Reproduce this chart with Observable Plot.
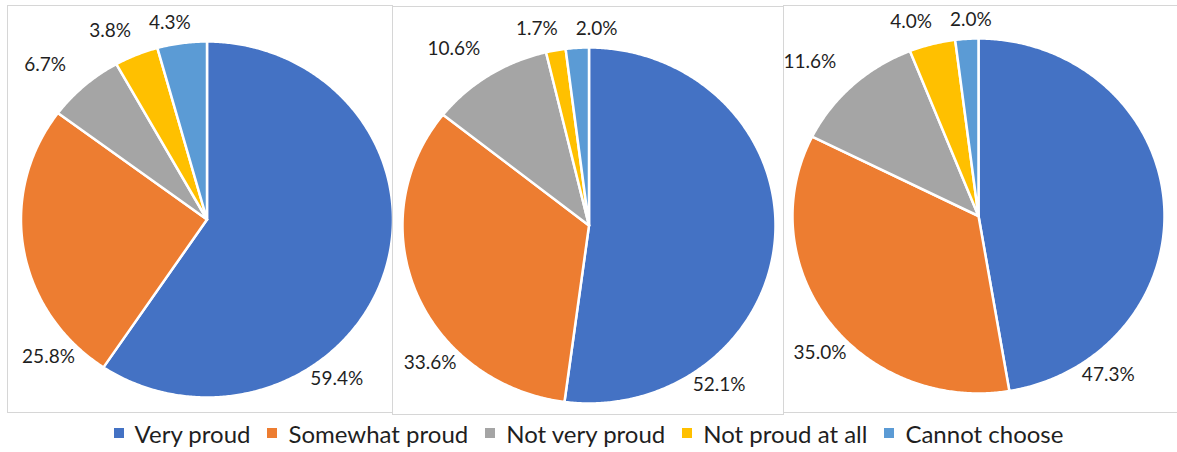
<!DOCTYPE html>
<html><head><meta charset="utf-8">
<script src="https://cdn.jsdelivr.net/npm/d3@7"></script>
<script src="https://cdn.jsdelivr.net/npm/@observablehq/plot@0.6"></script>
<style>
html,body{margin:0;padding:0;background:#fff;}
body{width:1177px;height:452px;overflow:hidden;position:relative;font-family:Lato,sans-serif;}
.panel{position:absolute;}
.panel svg{display:block;overflow:visible;}
.frame{position:absolute;border:1px solid #d6d6d6;box-sizing:border-box;pointer-events:none;}
#legend{position:absolute;left:0;top:418px;width:1177px;display:flex;justify-content:center;}
#legend > div{justify-content:center;margin:0 !important;min-height:30px !important;}
.lg-swatch{margin-right:17px !important;}
.lg-swatch:last-child{margin-right:0 !important;}
.lg-swatch > svg{margin-right:11px !important;}
</style></head><body>
<div id="legend"></div>
<script>
// ---- data ----
const categories = ["Very proud", "Somewhat proud", "Not very proud", "Not proud at all", "Cannot choose"];
const colors = ["#4472C4", "#ED7D31", "#A5A5A5", "#FFC000", "#5B9BD5"];
const survey1 = [59.4, 25.8, 6.7, 3.8, 4.3];
const survey2 = [52.1, 33.6, 10.6, 1.7, 2.0];
const survey3 = [47.3, 35.0, 11.6, 4.0, 2.0];

// ---- layout (page pixels) ----
const layout = [
  {values: survey1, left: 7,   top: 5, width: 386, height: 408, cx: 206.5, cy: 219,   rx: 186, ry: 178},
  {values: survey2, left: 392, top: 6, width: 392, height: 409, cx: 588.5, cy: 225,   rx: 186.5, ry: 178},
  {values: survey3, left: 783, top: 5, width: 400, height: 408, cx: 978,   cy: 215.5, rx: 186, ry: 177.5}
];
const labelFont = 19, labelFamily = "Lato", textColor = "#1f1f1f";

const ctx = document.createElement("canvas").getContext("2d");
ctx.font = `${labelFont}px ${labelFamily}`;

function wedgePoints(values) {
  const total = d3.sum(values);
  let acc = 0;
  const pts = [];
  values.forEach((v, i) => {
    const a0 = acc / total * 2 * Math.PI; acc += v;
    const a1 = acc / total * 2 * Math.PI;
    const n = Math.max(2, Math.ceil((a1 - a0) / (Math.PI / 360)));
    pts.push({cat: categories[i], x: 0, y: 0});
    for (let k = 0; k <= n; k++) {
      const a = a0 + (a1 - a0) * k / n;
      pts.push({cat: categories[i], x: Math.sin(a), y: Math.cos(a)});
    }
    pts.push({cat: categories[i], x: 0, y: 0});
  });
  return pts;
}

function labelPoints(values, p) {
  const total = d3.sum(values);
  let acc = 0;
  const labs = values.map((v, i) => {
    const a0 = acc / total * 360; acc += v;
    const a1 = acc / total * 360;
    let mid = (a0 + a1) / 2 - 4, clamped = false;
    // best-fit: keep the two large slices' labels inside the panel corners
    if (i === 0 && mid < 142) { mid = 142; clamped = true; }
    if (i === 1 && mid > 228) { mid = 228; clamped = true; }
    const r = mid * Math.PI / 180;
    const ux = Math.sin(r), uy = -Math.cos(r);
    const text = v.toFixed(1) + "%";
    const w = ctx.measureText(text).width, h = 14;
    const s = Math.abs(ux) * w / 2 + Math.abs(uy) * h / 2;
    const gap = clamped ? 3 : 8 + 20 * Math.abs(ux);
    const px = p.rx * ux + (gap + s) * ux;
    const py = p.ry * uy + (gap + s) * uy;
    return {text, px, py, w, h};
  });
  // resolve overlaps between neighbouring labels: push the later one outward
  for (let i = 1; i < labs.length; i++) {
    const a = labs[i - 1], b = labs[i];
    if (Math.abs(a.py - b.py) < a.h + 4) {
      const need = (a.w + b.w) / 2 + 18;
      const dx = b.px - a.px;
      if (dx < need) b.px += need - dx;
    }
  }
  return labs.map(l => ({text: l.text, x: l.px / p.rx, y: -l.py / p.ry}));
}

layout.forEach(p => {
  const div = document.createElement("div");
  div.className = "panel";
  Object.assign(div.style, {left: p.left + "px", top: p.top + "px", width: p.width + "px", height: p.height + "px"});
  const cxl = p.cx - p.left, cyl = p.cy - p.top;
  const chart = Plot.plot({
    width: p.width, height: p.height,
    margin: 0,
    x: {domain: [-1, 1], range: [cxl - p.rx, cxl + p.rx], axis: null},
    y: {domain: [-1, 1], range: [cyl + p.ry, cyl - p.ry], axis: null},
    color: {domain: categories, range: colors},
    style: {background: "transparent", overflow: "visible"},
    marks: [
      Plot.line(wedgePoints(p.values), {x: "x", y: "y", z: "cat", fill: "cat", stroke: "white", strokeWidth: 2.5, strokeLinejoin: "round", curve: "linear"}),
      Plot.text(labelPoints(p.values, p), {x: "x", y: "y", text: "text", fontSize: labelFont, fontFamily: labelFamily, fill: textColor})
    ]
  });
  div.appendChild(chart);
  document.body.appendChild(div);
  const fr = document.createElement("div");
  fr.className = "frame";
  Object.assign(fr.style, {left: p.left + "px", top: p.top + "px", width: p.width + "px", height: p.height + "px"});
  document.body.appendChild(fr);
});

const legend = Plot.legend({
  color: {domain: categories, range: colors, type: "categorical"},
  swatchSize: 10,
  className: "lg",
  style: {fontSize: "24px", fontFamily: "Lato", color: textColor}
});
document.getElementById("legend").appendChild(legend);
</script>
</body></html>
